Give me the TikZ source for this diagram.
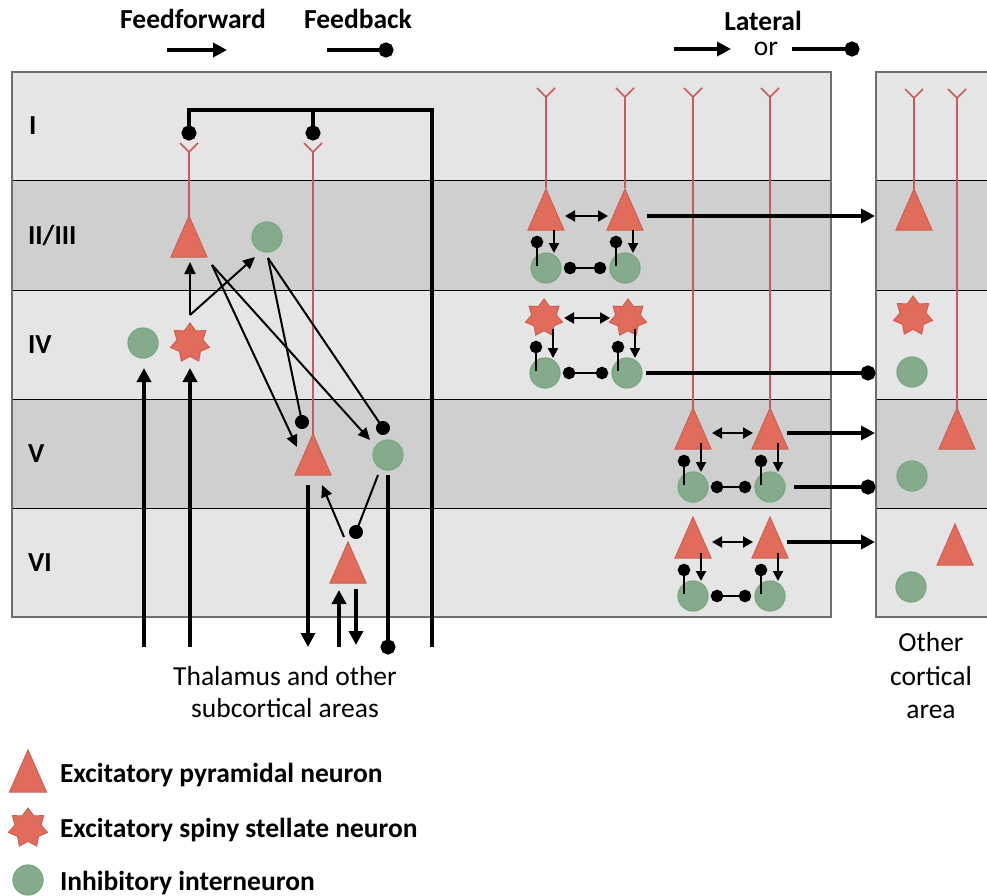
\documentclass[tikz,border=0pt]{standalone}
\usepackage{fontspec}
\setmainfont{Carlito}
\usetikzlibrary{arrows.meta,shapes.geometric}
\definecolor{layA}{RGB}{230,229,230}
\definecolor{layB}{RGB}{208,207,208}
\definecolor{pyrfill}{RGB}{226,108,92}
\definecolor{pyredge}{RGB}{205,95,82}
\definecolor{inhfill}{RGB}{134,170,140}
\definecolor{inhedge}{RGB}{118,168,128}
\definecolor{dendcol}{RGB}{200,92,84}
\definecolor{panelcol}{RGB}{110,110,110}

\newcommand\pyrtri[3]{%
  \path[pyrstyle] (#2-18,#3) -- (#2,#3-41) -- (#2+18,#3) -- cycle;
  \coordinate (#1) at (#2,#3-20);}
\newcommand\dendr[3]{\draw[dendrite] (#1-9,#2) -- (#1,#2+9) -- (#1+9,#2) (#1,#2+9) -- (#1,#3);}
\newcommand\localnet[6]{%
  \node[inh] (#1a) at (#2,#5) {};
  \node[inh] (#1b) at (#3,#5) {};
  \draw[dblthin] (#2+19,#6) -- (#3-17,#6);
  \draw[ffsmall] (#2+8,#4) -- (#2+8,#5-15);
  \draw[ffsmall] (#3+8,#4) -- (#3+8,#5-15);
  \draw[fbsmall] (#2-9,#5-2) -- (#2-9,#5-26);
  \draw[fbsmall] (#3-9,#5-2) -- (#3-9,#5-26);
  \draw[dotdot] (#2+24,#5) -- (#3-25,#5);}

\tikzset{
  every node/.style={inner sep=0pt, outer sep=0pt, font=\fontsize{27.5}{33}\selectfont},
  lbl/.style={font=\fontsize{27.5}{33}\selectfont\bfseries},
  pyrstyle/.style={fill=pyrfill, draw=pyredge, line width=1pt, line join=miter},
  inh/.style={circle, fill=inhfill, draw=inhedge, line width=1.2pt, minimum size=30pt},
  stel/.style={star, star points=7, star point ratio=1.5, fill=pyrfill, draw=pyredge, line width=1pt, minimum size=40pt},
  dendrite/.style={draw=dendcol, line width=1.6pt},
  layline/.style={line width=1pt, black},
  panel/.style={draw=panelcol, line width=1.2pt},
  ffthin/.style={line width=2pt, -{Triangle[length=12pt,width=11pt]}},
  fbthin/.style={line width=2pt, -{Circle[length=14pt]}, shorten >=-7pt},
  ffsmall/.style={line width=2pt, -{Triangle[length=10pt,width=10pt]}},
  fbsmall/.style={line width=2pt, -{Circle[length=12.5pt]}, shorten >=-6.25pt},
  dotdot/.style={line width=2pt, {Circle[length=12.5pt]}-{Circle[length=12.5pt]}, shorten >=-6.25pt, shorten <=-6.25pt},
  dblthin/.style={line width=2pt, {Triangle[length=10pt,width=11pt]}-{Triangle[length=10pt,width=11pt]}},
  ffthick/.style={line width=4.5pt, -{Triangle[length=14pt,width=14pt]}},
  fbthick/.style={line width=4.5pt, -{Circle[length=15pt]}, shorten >=-7.5pt},
  bar/.style={line width=4.5pt, line join=miter},
}

\begin{document}
\begin{tikzpicture}[x=1pt,y=-1pt]
\useasboundingbox (0,0) rectangle (987,896);
\clip (0,0) rectangle (987,896);

% ---------- layer bands ----------
\foreach \t/\c in {72/layA,181/layB,290/layA,399/layB,508/layA} {
  \fill[\c] (12,\t) rectangle (831,\t+109);
  \fill[\c] (876,\t) rectangle (1000,\t+109);
}
\foreach \y in {181,290,399,508} {
  \draw[layline] (12,\y) -- (831,\y);
  \draw[layline] (876,\y) -- (1000,\y);
}
\draw[panel] (12,72) rectangle (831,617);
\draw[panel] (876,72) rectangle (1000,617);

% ---------- layer labels ----------
\node[lbl,anchor=base west] (LI) at (29,135) {I};
\node[lbl,anchor=base west] (LII) at (28,244) {II/III};
\node[lbl,anchor=base west] (LIV) at (28,353) {IV};
\node[lbl,anchor=base west] (LV) at (28,462) {V};
\node[lbl,anchor=base west] (LVI) at (28,571) {VI};

% ---------- header ----------
\node[lbl,anchor=base] (tff) at (193,29) {Feedforward};
\node[lbl,anchor=base] (tfb) at (358,29) {Feedback};
\node[lbl,anchor=base] (tlat) at (763,31) {Lateral};
\node[anchor=base] (tor) at (766,56) {or};
\coordinate (hffa) at (167,50); \coordinate (hffb) at (227,50);
\coordinate (hfba) at (327,50); \coordinate (hfbb) at (386,50);
\coordinate (hlaa) at (674,49); \coordinate (hlab) at (731,49);
\coordinate (hlba) at (792,49); \coordinate (hlbb) at (852,49);
\draw[ffthick] (hffa) -- (hffb);
\draw[fbthick] (hfba) -- (hfbb);
\draw[ffthick] (hlaa) -- (hlab);
\draw[fbthick] (hlba) -- (hlbb);

% ---------- left column: dendrites and neurons ----------
\dendr{189}{143}{217}
\dendr{313}{143}{435}
\pyrtri{pII}{189}{257}
\pyrtri{pV}{313}{475}
\pyrtri{pVI}{348}{583}
\node[inh] (iII) at (267,237) {};
\node[inh] (iIV) at (143,343) {};
\node[stel] (sIV) at (190,343) {};
\node[inh] (iV) at (388,455) {};

% feedback bracket in layer I
\coordinate (fbdA) at (189,133); \coordinate (fbdB) at (313,133);
\coordinate (brA) at (189,110); \coordinate (brB) at (313,110); \coordinate (brC) at (432,110);
\coordinate (brD) at (432,647);
\draw[bar, {Circle[length=15pt]}-, shorten <=-7.5pt] (fbdA) -- (brA) -- (brC) -- (brD);
\draw[bar, {Circle[length=15pt]}-, shorten <=-7.5pt] (fbdB) -- (brB);

% thalamic inputs
\coordinate (thA0) at (144,647); \coordinate (thA1) at (144,368);
\coordinate (thB0) at (190,647); \coordinate (thB1) at (190,368);
\draw[ffthick] (thA0) -- (thA1);
\draw[ffthick] (thB0) -- (thB1);

% stellate outputs
\coordinate (sOut) at (190,315);
\coordinate (pIIin) at (190,262);
\coordinate (iIIin) at (255,257);
\draw[ffthin] (sOut) -- (pIIin);
\draw[ffthin] (sOut) -- (iIIin);

% layer II/III outputs
\coordinate (pIIout) at (212,265);
\coordinate (pVin) at (297,447);
\coordinate (iVin) at (370,440);
\draw[ffthin] (pIIout) -- (pVin);
\draw[ffthin] (pIIout) -- (iVin);
\coordinate (iIIout) at (268,258);
\coordinate (pVdot) at (302,422);
\coordinate (iVdot) at (383,428);
\draw[fbthin] (iIIout) -- (pVdot);
\draw[fbthin] (iIIout) -- (iVdot);

% layer VI / V interactions
\coordinate (pVIout) at (344,537);
\coordinate (pVin2) at (322,485);
\draw[ffthin] (pVIout) -- (pVin2);
\coordinate (iVout) at (378,475);
\coordinate (pVIdot) at (356,532);
\draw[fbthin] (iVout) -- (pVIdot);

% subcortical projections
\coordinate (sc1a) at (308,485); \coordinate (sc1b) at (308,647);
\coordinate (sc2a) at (339,647); \coordinate (sc2b) at (339,590);
\coordinate (sc3a) at (356,589); \coordinate (sc3b) at (356,645);
\coordinate (sc4a) at (388,475); \coordinate (sc4b) at (388,647);
\draw[ffthick] (sc1a) -- (sc1b);
\draw[ffthick] (sc2a) -- (sc2b);
\draw[ffthick] (sc3a) -- (sc3b);
\draw[fbthick] (sc4a) -- (sc4b);

\node[anchor=base] (thal1) at (285,685) {Thalamus and other};
\node[anchor=base] (thal2) at (285,717) {subcortical areas};

% ---------- middle: lateral circuits ----------
\dendr{546}{88}{188}
\dendr{625}{88}{188}
\dendr{693}{88}{408}
\dendr{770}{88}{408}
\pyrtri{mpIIa}{546}{230}
\pyrtri{mpIIb}{625}{230}
\localnet{mII}{546}{625}{230}{268}{216}
\node[stel, minimum size=38pt] (msIVa) at (544,318) {};
\node[stel, minimum size=38pt] (msIVb) at (628,318) {};
\localnet{mIV}{545}{627}{329}{373}{318}
\pyrtri{mpVa}{693}{449}
\pyrtri{mpVb}{770}{449}
\localnet{mV}{693}{770}{443}{487}{433}
\pyrtri{mpVIa}{693}{558}
\pyrtri{mpVIb}{770}{558}
\localnet{mVI}{693}{770}{553}{596}{542}

% long-range lateral projections
\coordinate (lat1a) at (647,216); \coordinate (lat1b) at (875,216);
\coordinate (lat2a) at (646,373); \coordinate (lat2b) at (868,373);
\coordinate (lat3a) at (787,433); \coordinate (lat3b) at (875,433);
\coordinate (lat4a) at (794,487); \coordinate (lat4b) at (868,487);
\coordinate (lat5a) at (787,542); \coordinate (lat5b) at (875,542);
\draw[ffthick] (lat1a) -- (lat1b);
\draw[fbthick] (lat2a) -- (lat2b);
\draw[ffthick] (lat3a) -- (lat3b);
\draw[fbthick] (lat4a) -- (lat4b);
\draw[ffthick] (lat5a) -- (lat5b);

% ---------- right: other cortical area ----------
\dendr{914}{89}{190}
\dendr{957}{89}{408}
\pyrtri{rpII}{914}{230}
\node[stel] (rsIV) at (913,316) {};
\node[inh] (riIV) at (912,372) {};
\pyrtri{rpV}{957}{449}
\node[inh] (riV) at (912,476) {};
\pyrtri{rpVI}{955}{565}
\node[inh] (riVI) at (911,587) {};
\node[anchor=base] (oc1) at (931,651) {Other};
\node[anchor=base] (oc2) at (931,685) {cortical};
\node[anchor=base] (oc3) at (931,718) {area};

% ---------- legend ----------
\path[pyrstyle] (9.5,792) -- (28,750) -- (46.5,792) -- cycle;
\coordinate (legpyr) at (28,772);
\node[stel] (legstar) at (28,828) {};
\node[inh] (leginh) at (28,880) {};
\node[lbl,anchor=base west] (legt1) at (60,782) {Excitatory pyramidal neuron};
\node[lbl,anchor=base west] (legt2) at (60,837) {Excitatory spiny stellate neuron};
\node[lbl,anchor=base west] (legt3) at (60,890) {Inhibitory interneuron};
\end{tikzpicture}
\end{document}
